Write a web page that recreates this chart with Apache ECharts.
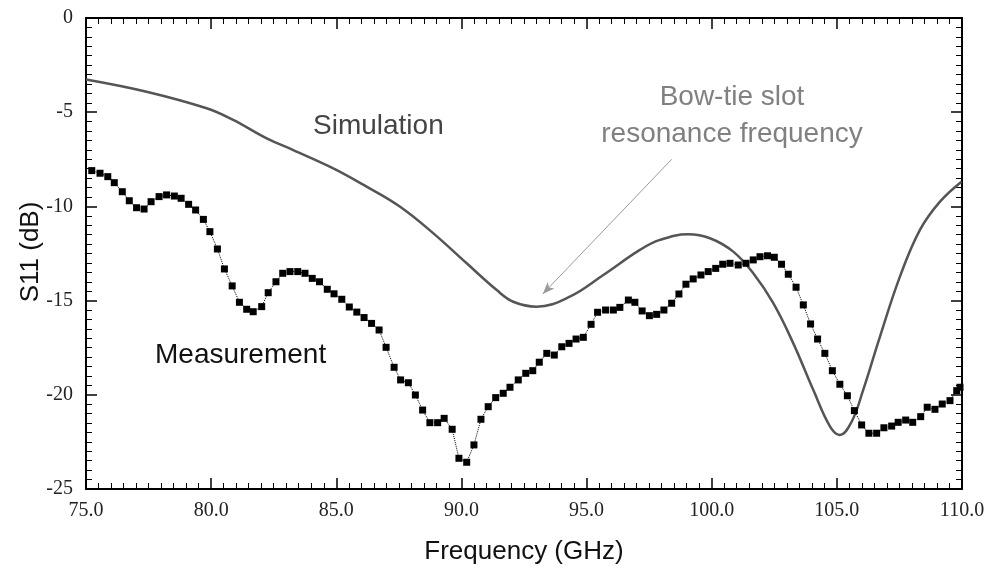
<!DOCTYPE html>
<html>
<head>
<meta charset="utf-8">
<title>S11 vs Frequency</title>
<script src="https://cdn.jsdelivr.net/npm/echarts@6/dist/echarts.min.js"></script>
<style>
  html, body { margin: 0; padding: 0; background: #fff; }
  #chart { width: 991px; height: 568px; }
</style>
</head>
<body>
<div id="chart"></div>
<script>
// Measured S11 samples: frequency (GHz) and magnitude (dB)
const measFreq = [
  75.23, 75.56, 75.87, 76.13, 76.45, 76.73, 77.02, 77.32, 77.60, 77.92,
  78.22, 78.53, 78.80, 79.10, 79.38, 79.69, 79.95, 80.25, 80.53, 80.84,
  81.13, 81.42, 81.68, 82.02, 82.28, 82.59, 82.86, 83.15, 83.46, 83.75,
  84.04, 84.33, 84.64, 84.91, 85.22, 85.52, 85.82, 86.11, 86.41, 86.71,
  86.99, 87.31, 87.57, 87.88, 88.16, 88.45, 88.74, 89.05, 89.31, 89.63,
  89.90, 90.21, 90.50, 90.78, 91.07, 91.37, 91.67, 91.94, 92.27, 92.57,
  92.85, 93.11, 93.41, 93.71, 94.01, 94.30, 94.58, 94.87, 95.18, 95.44,
  95.76, 96.07, 96.33, 96.67, 96.93, 97.22, 97.51, 97.80, 98.09, 98.40,
  98.69, 98.97, 99.26, 99.57, 99.86, 100.16, 100.44, 100.73, 101.06, 101.37,
  101.66, 101.93, 102.23, 102.50, 102.79, 103.06, 103.37, 103.66, 103.95, 104.23,
  104.52, 104.82, 105.12, 105.42, 105.70, 105.99, 106.28, 106.59, 106.88, 107.19,
  107.45, 107.75, 108.03, 108.35, 108.61, 108.92, 109.21, 109.52, 109.79, 109.92
];
const measS11 = [
  -8.10, -8.24, -8.42, -8.74, -9.22, -9.70, -10.07, -10.14, -9.75, -9.48,
  -9.39, -9.45, -9.57, -9.89, -10.19, -10.69, -11.34, -12.26, -13.32, -14.22,
  -15.09, -15.46, -15.59, -15.32, -14.58, -14.00, -13.55, -13.46, -13.46, -13.55,
  -13.82, -14.00, -14.40, -14.64, -14.93, -15.34, -15.61, -15.90, -16.21, -16.56,
  -17.48, -18.54, -19.21, -19.36, -20.01, -20.81, -21.48, -21.48, -21.25, -21.83,
  -23.37, -23.58, -22.66, -21.30, -20.63, -20.15, -19.92, -19.60, -19.21, -18.86,
  -18.72, -18.27, -17.80, -17.89, -17.45, -17.27, -17.04, -16.95, -16.26, -15.62,
  -15.50, -15.50, -15.36, -14.97, -15.09, -15.55, -15.80, -15.73, -15.50, -15.14,
  -14.65, -14.13, -13.85, -13.64, -13.46, -13.29, -13.07, -13.02, -13.11, -13.02,
  -12.84, -12.67, -12.62, -12.70, -13.07, -13.60, -14.29, -15.23, -16.24, -17.04,
  -17.80, -18.72, -19.44, -20.05, -20.84, -21.60, -22.04, -22.04, -21.75, -21.66,
  -21.46, -21.34, -21.46, -21.16, -20.66, -20.77, -20.49, -20.31, -19.78, -19.60
];

// Simulated S11 curve
const simFreq = [
  75.00, 77.42, 79.82, 80.88, 82.22, 83.28, 84.88, 86.21, 87.55, 88.88,
  90.21, 91.41, 92.07, 93.00, 94.33, 95.67, 97.13, 97.93, 99.06, 99.93,
  100.86, 101.66, 102.46, 103.26, 104.06, 104.73, 105.12, 105.59, 106.05, 106.72,
  107.52, 108.32, 109.12, 109.98
];
const simS11 = [
  -3.26, -3.91, -4.79, -5.41, -6.39, -7.01, -7.98, -8.95, -10.02, -11.43,
  -13.02, -14.44, -15.06, -15.32, -14.79, -13.64, -12.31, -11.78, -11.48, -11.69,
  -12.40, -13.55, -15.14, -17.27, -19.75, -21.69, -22.13, -21.43, -19.75, -16.92,
  -13.73, -11.25, -9.75, -8.69
];

// Annotation arrow: from the label down to the simulated resonance dip
const arrowFrom = [98.40, -7.50];
const arrowTo = [93.25, -14.65];

// Axis ranges and tick steps
const xRange = [75, 110, 5];
const yRange = [-25, 0, 5];

const zip = (xs, ys) => xs.map((x, i) => [x, ys[i]]);

const tickFont = { fontFamily: 'Liberation Serif', fontSize: 20, color: '#222' };

function frameAxis(extra) {
  return Object.assign({
    type: 'value',
    axisLine: { show: true, onZero: false, lineStyle: { color: '#000', width: 2 } },
    axisTick: { show: true, inside: true, length: 11, lineStyle: { color: '#000', width: 1.5 } },
    minorTick: { show: true, splitNumber: 10, length: 6, lineStyle: { color: '#000', width: 1 } },
    splitLine: { show: false },
    minorSplitLine: { show: false }
  }, extra);
}

const chart = echarts.init(document.getElementById('chart'), null, { renderer: 'canvas' });

chart.setOption({
  animation: false,
  backgroundColor: '#fff',
  grid: { left: 86, right: 29, top: 18, bottom: 79, containLabel: false },
  xAxis: [
    frameAxis({
      position: 'bottom', min: xRange[0], max: xRange[1], interval: xRange[2],
      axisLabel: Object.assign({ margin: 12, formatter: v => v.toFixed(1) }, tickFont)
    }),
    frameAxis({
      position: 'top', min: xRange[0], max: xRange[1], interval: xRange[2],
      axisLabel: { show: false }
    })
  ],
  yAxis: [
    frameAxis({
      position: 'left', min: yRange[0], max: yRange[1], interval: yRange[2],
      axisLabel: Object.assign({ margin: 13 }, tickFont)
    }),
    frameAxis({
      position: 'right', min: yRange[0], max: yRange[1], interval: yRange[2],
      axisLabel: { show: false }
    })
  ],
  series: [
    {
      name: 'Simulation',
      type: 'line',
      xAxisIndex: 0, yAxisIndex: 0,
      data: zip(simFreq, simS11),
      smooth: 0.4,
      showSymbol: false,
      lineStyle: { color: '#555', width: 2.5 },
      z: 3,
      markLine: {
        silent: true,
        animation: false,
        symbol: ['none', 'arrow'],
        symbolSize: [7, 12],
        label: { show: false },
        lineStyle: { color: '#9a9a9a', width: 1, type: 'solid' },
        data: [[{ coord: arrowFrom }, { coord: arrowTo }]]
      }
    },
    {
      name: 'Measurement',
      type: 'line',
      xAxisIndex: 0, yAxisIndex: 0,
      data: zip(measFreq, measS11),
      symbol: 'rect',
      symbolSize: 7,
      showSymbol: true,
      itemStyle: { color: '#000' },
      lineStyle: { color: '#000', width: 1, type: 'dotted' },
      z: 4
    }
  ],
  graphic: [
    {
      type: 'text', x: 313, y: 112,
      style: { text: 'Simulation', font: '28px "Liberation Sans", Arial, sans-serif', fill: '#444' }
    },
    {
      type: 'text', x: 155, y: 341,
      style: { text: 'Measurement', font: '28px "Liberation Sans", Arial, sans-serif', fill: '#111' }
    },
    {
      type: 'text', x: 732, y: 79,
      style: {
        text: 'Bow-tie slot\nresonance frequency',
        font: '28px "Liberation Sans", Arial, sans-serif',
        fill: '#808080', align: 'center', verticalAlign: 'top', lineHeight: 37
      }
    },
    {
      type: 'text', x: 524, y: 552,
      style: {
        text: 'Frequency (GHz)', font: '26px "Liberation Sans", Arial, sans-serif',
        fill: '#111', align: 'center', verticalAlign: 'middle'
      }
    },
    {
      type: 'text', x: 31, y: 252, rotation: Math.PI / 2,
      style: {
        text: 'S11 (dB)', font: '26px "Liberation Sans", Arial, sans-serif',
        fill: '#111', align: 'center', verticalAlign: 'middle'
      }
    }
  ]
});
</script>
</body>
</html>
